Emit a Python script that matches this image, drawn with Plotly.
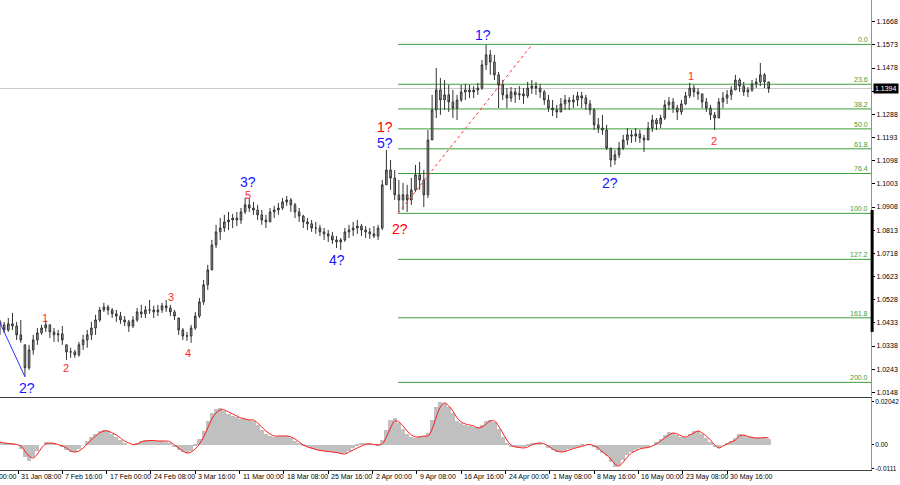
import plotly.graph_objects as go

# ---------------- DATA ----------------
# price bars (each bar = 12 hours)
highs = [1.0445,1.0437,1.0453,1.0474,1.0437,1.0445,1.0343,1.0343,1.0384,1.0412,
1.0425,1.0445,1.0425,1.0412,1.0404,1.0420,1.0343,1.0331,1.0322,1.0355,
1.0384,1.0404,1.0437,1.0466,1.0498,1.0515,1.0507,1.0494,1.0486,1.0478,
1.0461,1.0445,1.0461,1.0494,1.0507,1.0503,1.0527,1.0503,1.0507,1.0515,
1.0527,1.0507,1.0486,1.0453,1.0412,1.0396,1.0425,1.0478,1.0535,1.0609,
1.0671,1.0773,1.0835,1.0863,1.0876,1.0888,1.0880,1.0888,1.0904,1.0945,
1.0945,1.0929,1.0917,1.0896,1.0876,1.0904,1.0913,1.0925,1.0945,1.0953,
1.0945,1.0925,1.0904,1.0876,1.0863,1.0855,1.0847,1.0835,1.0822,1.0814,
1.0806,1.0789,1.0781,1.0822,1.0835,1.0847,1.0855,1.0839,1.0830,1.0822,
1.0830,1.0835,1.1019,1.1142,1.1101,1.1060,1.1019,1.1007,1.0999,1.1027,
1.1081,1.1093,1.1060,1.1224,1.1368,1.1478,1.1437,1.1429,1.1409,1.1388,
1.1368,1.1409,1.1413,1.1409,1.1404,1.1417,1.1511,1.1573,1.1552,1.1532,
1.1462,1.1429,1.1396,1.1400,1.1396,1.1404,1.1396,1.1421,1.1429,1.1421,
1.1413,1.1388,1.1368,1.1347,1.1327,1.1355,1.1368,1.1359,1.1368,1.1380,
1.1380,1.1368,1.1347,1.1314,1.1273,1.1286,1.1245,1.1150,1.1142,1.1175,
1.1204,1.1232,1.1224,1.1232,1.1224,1.1204,1.1257,1.1286,1.1273,1.1286,
1.1347,1.1359,1.1355,1.1327,1.1347,1.1380,1.1417,1.1409,1.1396,1.1372,
1.1355,1.1327,1.1298,1.1355,1.1380,1.1388,1.1404,1.1450,1.1437,1.1421,
1.1400,1.1429,1.1437,1.1499,1.1458,1.1421]

lows = [1.0384,1.0392,1.0396,1.0404,1.0363,1.0351,1.0212,1.0240,1.0302,1.0343,
1.0384,1.0396,1.0371,1.0355,1.0355,1.0343,1.0281,1.0290,1.0290,1.0294,
1.0322,1.0331,1.0363,1.0384,1.0437,1.0478,1.0466,1.0453,1.0437,1.0429,
1.0420,1.0396,1.0412,1.0437,1.0453,1.0453,1.0470,1.0453,1.0461,1.0474,
1.0478,1.0461,1.0445,1.0384,1.0363,1.0359,1.0351,1.0404,1.0453,1.0507,
1.0568,1.0650,1.0740,1.0773,1.0806,1.0814,1.0822,1.0830,1.0839,1.0880,
1.0888,1.0876,1.0855,1.0835,1.0822,1.0847,1.0863,1.0876,1.0896,1.0913,
1.0888,1.0863,1.0847,1.0822,1.0814,1.0806,1.0798,1.0789,1.0773,1.0765,
1.0757,1.0740,1.0732,1.0765,1.0781,1.0789,1.0798,1.0789,1.0781,1.0777,
1.0781,1.0773,1.0814,1.0999,1.0978,1.0937,1.0888,1.0896,1.0888,1.0917,
1.0970,1.0978,1.0908,1.0945,1.1183,1.1273,1.1286,1.1306,1.1298,1.1273,
1.1265,1.1339,1.1347,1.1355,1.1355,1.1368,1.1388,1.1470,1.1450,1.1429,
1.1314,1.1347,1.1314,1.1339,1.1335,1.1347,1.1331,1.1355,1.1372,1.1368,
1.1355,1.1327,1.1298,1.1281,1.1273,1.1298,1.1306,1.1306,1.1314,1.1322,
1.1314,1.1306,1.1286,1.1224,1.1212,1.1204,1.1142,1.1072,1.1081,1.1109,
1.1142,1.1163,1.1171,1.1175,1.1171,1.1134,1.1183,1.1216,1.1224,1.1232,
1.1265,1.1306,1.1294,1.1265,1.1286,1.1327,1.1355,1.1359,1.1347,1.1314,
1.1298,1.1265,1.1224,1.1273,1.1314,1.1331,1.1347,1.1388,1.1380,1.1364,
1.1359,1.1380,1.1396,1.1404,1.1396,1.1376]

closes = [1.0425,1.0404,1.0429,1.0420,1.0384,1.0363,1.0249,1.0322,1.0363,1.0392,
1.0412,1.0425,1.0396,1.0384,1.0388,1.0363,1.0314,1.0314,1.0302,1.0343,
1.0363,1.0384,1.0412,1.0445,1.0486,1.0498,1.0486,1.0470,1.0461,1.0445,
1.0437,1.0420,1.0445,1.0478,1.0470,1.0486,1.0486,1.0478,1.0486,1.0503,
1.0494,1.0478,1.0461,1.0404,1.0379,1.0379,1.0412,1.0461,1.0519,1.0589,
1.0650,1.0752,1.0806,1.0822,1.0847,1.0855,1.0863,1.0855,1.0888,1.0917,
1.0904,1.0896,1.0876,1.0855,1.0847,1.0888,1.0896,1.0904,1.0929,1.0937,
1.0917,1.0888,1.0871,1.0847,1.0839,1.0822,1.0822,1.0806,1.0798,1.0789,
1.0773,1.0765,1.0773,1.0806,1.0814,1.0822,1.0830,1.0814,1.0806,1.0798,
1.0789,1.0822,1.0999,1.1060,1.1027,1.0958,1.0937,1.0958,1.0937,1.0978,
1.1040,1.1019,1.0958,1.1183,1.1306,1.1388,1.1347,1.1368,1.1339,1.1314,
1.1347,1.1380,1.1388,1.1380,1.1388,1.1396,1.1491,1.1532,1.1503,1.1450,
1.1409,1.1368,1.1355,1.1380,1.1368,1.1372,1.1364,1.1396,1.1404,1.1396,
1.1380,1.1347,1.1314,1.1306,1.1298,1.1331,1.1347,1.1339,1.1347,1.1364,
1.1355,1.1331,1.1306,1.1245,1.1232,1.1224,1.1150,1.1101,1.1122,1.1150,
1.1183,1.1204,1.1199,1.1208,1.1191,1.1183,1.1232,1.1265,1.1249,1.1273,
1.1327,1.1339,1.1314,1.1298,1.1331,1.1364,1.1396,1.1380,1.1372,1.1339,
1.1314,1.1286,1.1273,1.1339,1.1355,1.1368,1.1388,1.1429,1.1404,1.1380,
1.1388,1.1413,1.1421,1.1450,1.1421,1.1394]
first_open = 1.0437

# MACD (grey histogram) and signal (red line)
macd_main = [0.00143,0.00095,0.00071,0.00048,0.0,-0.0019,-0.0057,-0.0076,-0.0057,-0.00285,
0.0,0.00143,0.00095,0.00048,0.0,-0.00095,-0.00238,-0.00333,-0.00333,-0.0019,
0.0,0.0019,0.0038,0.00523,0.00665,0.00713,0.00665,0.00523,0.0038,0.00238,
0.00095,0.0,0.0,0.00095,0.0019,0.00238,0.00238,0.0019,0.0019,0.0019,
0.00143,0.00048,-0.00095,-0.00238,-0.00333,-0.0038,-0.00285,-0.00048,0.00285,0.00665,
0.0114,0.0152,0.0171,0.01758,0.01615,0.01473,0.01378,0.0133,0.01235,0.01235,
0.01188,0.0114,0.0095,0.00713,0.00523,0.00428,0.0038,0.00428,0.00428,0.00428,
0.00333,0.0019,0.00048,-0.00048,-0.00095,-0.0019,-0.00238,-0.00285,-0.00285,-0.00333,
-0.00333,-0.0038,-0.00428,-0.0038,-0.00285,-0.00143,-0.00048,0.00048,0.00095,0.00048,
0.0,-0.00048,0.00238,0.00713,0.01188,0.01283,0.01045,0.0076,0.00523,0.0038,
0.00333,0.00428,0.00428,0.0057,0.01188,0.01805,0.02043,0.01995,0.01805,0.0152,
0.0114,0.01045,0.0095,0.00903,0.00855,0.00855,0.0095,0.0114,0.01188,0.01093,
0.0076,0.0038,0.00048,-0.00095,-0.00095,-0.00143,-0.00095,-0.00048,0.00048,0.00095,
0.00095,0.0,-0.00143,-0.00238,-0.00333,-0.00333,-0.00285,-0.0019,-0.00143,-0.00095,
-0.00048,0.0,0.0,-0.00095,-0.00238,-0.0038,-0.00523,-0.00808,-0.01045,-0.0095,
-0.00713,-0.00475,-0.00333,-0.00238,-0.00143,-0.00143,-0.00095,0.0,0.00143,0.00285,
0.00475,0.00618,0.0057,0.00475,0.0038,0.0038,0.00523,0.00665,0.00665,0.00523,
0.00333,0.00143,-0.00095,-0.00143,0.0,0.00095,0.0019,0.00333,0.00523,0.00475,
0.0038,0.00333,0.00333,0.00333,0.0038,0.00285]

macd_signal = [0.00143,0.00095,0.00071,0.00048,0.00024,-0.00048,-0.00285,-0.00523,-0.00618,-0.00428,
-0.00143,0.00048,0.00095,0.00071,0.00024,-0.00048,-0.00143,-0.00285,-0.00333,-0.00285,
-0.00143,0.00048,0.00238,0.00428,0.0057,0.00665,0.00665,0.0057,0.00475,0.00333,
0.0019,0.00095,0.00024,0.00048,0.00143,0.0019,0.00214,0.00214,0.0019,0.0019,
0.0019,0.00143,0.0,-0.00143,-0.00285,-0.0038,-0.00333,-0.0019,0.00048,0.0038,
0.00808,0.01235,0.0152,0.01663,0.01663,0.01568,0.01473,0.01378,0.01283,0.01235,
0.01188,0.01188,0.01045,0.00855,0.00665,0.00523,0.00428,0.00428,0.00428,0.00428,
0.0038,0.00285,0.00143,0.0,-0.00095,-0.00143,-0.00214,-0.00261,-0.00285,-0.00309,
-0.00333,-0.00356,-0.00404,-0.00428,-0.00333,-0.00238,-0.00143,-0.00048,0.00024,0.00048,
0.00024,0.0,0.00048,0.0038,0.00808,0.0114,0.01093,0.00903,0.00665,0.00475,
0.0038,0.0038,0.00428,0.00428,0.0076,0.0133,0.01805,0.01995,0.01853,0.01615,
0.01283,0.01093,0.00998,0.0095,0.00903,0.00808,0.00855,0.00998,0.0114,0.0114,
0.00903,0.0057,0.00238,0.0,-0.00095,-0.00119,-0.00143,-0.00095,0.0,0.00071,
0.00095,0.00048,-0.00048,-0.0019,-0.00285,-0.00333,-0.00309,-0.00238,-0.00166,-0.00119,
-0.00071,0.0,0.00024,-0.00048,-0.00143,-0.00333,-0.00475,-0.00665,-0.00903,-0.00998,
-0.00808,-0.0057,-0.0038,-0.00285,-0.0019,-0.00143,-0.00119,-0.00048,0.00048,0.0019,
0.00333,0.00475,0.0057,0.00523,0.00428,0.0038,0.00475,0.0057,0.00665,0.0057,
0.00428,0.00238,0.0,-0.00143,-0.00048,0.00048,0.00143,0.00238,0.00428,0.00475,
0.00404,0.00356,0.00333,0.00333,0.00356,0.00333]

# time axis labels (one every 32 four-hour bars)
time_labels = ["31 Jan 08:00", "7 Feb 16:00", "17 Feb 00:00", "24 Feb 08:00", "3 Mar 16:00",
               "11 Mar 00:00", "18 Mar 08:00", "25 Mar 16:00", "2 Apr 00:00", "9 Apr 08:00",
               "16 Apr 16:00", "24 Apr 00:00", "1 May 08:00", "8 May 16:00", "16 May 00:00",
               "23 May 08:00", "30 May 16:00"]
first_label_cut = "24 Jan 00:00"
price_ticks = [1.0148, 1.0243, 1.0338, 1.0433, 1.0528, 1.0623, 1.0718, 1.0813, 1.0908,
               1.1003, 1.1098, 1.1193, 1.1288, 1.1383, 1.1478, 1.1573, 1.1668]
macd_ticks = [0.02042, 0.0, -0.0111]
macd_tick_text = ["0.02042", "0.00", "-0.0111"]
current_price = 1.1394

# Fibonacci grid
fib_high = 1.1575
fib_low = 1.0882
fib_ratios = [0.0, 23.6, 38.2, 50.0, 61.8, 76.4, 100.0, 127.2, 161.8, 200.0]
fib_start = 274.4          # bar position (4h bars) where the grid starts

# wave marks
wave_text = ["2?", "1", "2", "3", "4", "5", "3?", "4?", "1?", "5?", "2?", "1?", "2?", "1", "2"]
wave_pos = [6.5, 19.5, 34.7, 110.2, 123.0, 166.3, 166.3, 230.1, 265.0, 265.0, 275.8, 335.5, 427.4, 486.0, 502.5]
wave_price = [1.0166, 1.0453, 1.0248, 1.0539, 1.0311, 1.0958, 1.1012, 1.0691, 1.1238, 1.1169,
              1.0817, 1.1613, 1.1006, 1.1445, 1.1180]
wave_kind = ["blue", "small", "small", "small", "small", "small", "blue", "blue", "red", "blue",
             "red", "blue", "blue", "small", "small"]

# trend lines: (pos0, price0, pos1, price1)
red_trend = (274.4, 1.0882, 371.0, 1.1573)
blue_trend = (-13.0, 1.0433, 5.0, 1.0212)

# ---------------- BUILD ----------------
N = len(closes)
bar_pos = [-13 + 3 * i for i in range(N)]
opens = [first_open] + [min(max(c, lo), hi) for c, lo, hi in zip(closes[:-1], lows[1:], highs[1:])]
tick_pos = [32 * k for k in range(len(time_labels))]
X_RANGE = [-13, 615.9]
FONT = "Liberation Sans, Arial, sans-serif"

fig = go.Figure()
candle_style = dict(line=dict(color="#333333", width=1), fillcolor="#a6a6a6")
fig.add_trace(go.Candlestick(x=bar_pos, open=opens, high=highs, low=lows, close=closes,
                             increasing=candle_style, decreasing=candle_style,
                             whiskerwidth=0, xaxis="x", yaxis="y", hoverinfo="skip",
                             showlegend=False))

fig.add_trace(go.Bar(x=bar_pos, y=macd_main, width=3, marker=dict(color="#c0c0c0", line=dict(width=0)),
                     xaxis="x2", yaxis="y2", showlegend=False, hoverinfo="skip"))
fig.add_trace(go.Scatter(x=bar_pos, y=macd_signal, mode="lines", line=dict(color="#ff1a1a", width=1, shape="spline"),
                         xaxis="x2", yaxis="y2", showlegend=False, hoverinfo="skip"))

shapes = []
annotations = []

# current price line
shapes.append(dict(type="line", xref="x domain", yref="y", x0=0, x1=1, y0=current_price, y1=current_price,
                   line=dict(color="#c8c8c8", width=1), layer="below"))

fib_range = fib_high - fib_low
for r in fib_ratios:
    lvl = fib_high - r / 100.0 * fib_range
    shapes.append(dict(type="line", xref="x", yref="y", x0=fib_start, x1=X_RANGE[1], y0=lvl, y1=lvl,
                       line=dict(color="#3a9e3a", width=1), layer="below"))
    annotations.append(dict(xref="x domain", yref="y", x=1, y=lvl, xanchor="right", yanchor="bottom",
                            text=f"{r:.1f}", showarrow=False, xshift=-1, yshift=-1,
                            font=dict(family=FONT, size=7, color="#3a9e3a")))

shapes.append(dict(type="line", xref="x", yref="y", x0=red_trend[0], y0=red_trend[1], x1=red_trend[2], y1=red_trend[3],
                   line=dict(color="#ff3030", width=1, dash="dot")))
shapes.append(dict(type="line", xref="x", yref="y", x0=blue_trend[0], y0=blue_trend[1], x1=blue_trend[2], y1=blue_trend[3],
                   line=dict(color="#3030ff", width=1)))

# black marker on price scale
shapes.append(dict(type="line", xref="paper", yref="y", x0=1.0013, x1=1.0013, y0=1.0896, y1=1.0396,
                   line=dict(color="black", width=3)))

styles = {"blue": ("#1515ff", 14), "red": ("#ff0000", 14), "small": ("#ff2a2a", 11)}
for t, p, v, k in zip(wave_text, wave_pos, wave_price, wave_kind):
    col, sz = styles[k]
    annotations.append(dict(xref="x", yref="y", x=p, y=v, text=t, showarrow=False,
                            font=dict(family=FONT, size=sz, color=col)))

# current price tag (covers the 1.1383 scale label, as on the terminal)
annotations.append(dict(xref="x domain", yref="y", x=1, y=current_price, xanchor="left", yanchor="middle",
                        text=f"{current_price:.4f}", showarrow=False, bgcolor="black", xshift=2, borderpad=1,
                        font=dict(family=FONT, size=7, color="white")))

# time labels, left-aligned just after their tick mark
for p, t in zip(tick_pos, time_labels):
    annotations.append(dict(xref="x2", yref="paper", x=p, y=0, xanchor="left", yanchor="top",
                            xshift=1, yshift=-1, text=t, showarrow=False,
                            font=dict(family=FONT, size=7, color="black")))
# partially visible label left of the window (only its end shows)
annotations.append(dict(xref="paper", yref="paper", x=0, y=0, xanchor="left", yanchor="top",
                        xshift=-26, yshift=-1, text=first_label_cut, showarrow=False,
                        font=dict(family=FONT, size=7, color="black")))

price_text = ["" if abs(v - 1.1383) < 1e-6 else f"{v:.4f}" for v in price_ticks]

fig.update_layout(
    width=900, height=485,
    margin=dict(l=0, r=29, t=0, b=15),
    paper_bgcolor="white", plot_bgcolor="white",
    showlegend=False, bargap=0, boxgap=0.45,
    font=dict(family=FONT, size=7, color="black"),
    shapes=shapes, annotations=annotations,
    xaxis=dict(domain=[0, 1], anchor="y", range=X_RANGE, showticklabels=False, showgrid=False,
               zeroline=False, showline=False, ticks="", rangeslider=dict(visible=False)),
    yaxis=dict(domain=[0.1574, 1.0], anchor="x", side="right", range=[1.0133, 1.1757],
               tickvals=price_ticks, ticktext=price_text,
               showgrid=False, zeroline=False, showline=True, linecolor="#909090", linewidth=1,
               ticks="outside", ticklen=3, tickcolor="black", automargin=False,
               tickfont=dict(family=FONT, size=7, color="black")),
    xaxis2=dict(domain=[0, 1], anchor="y2", range=X_RANGE, tickvals=tick_pos, showticklabels=False,
                ticks="outside", ticklen=3, tickcolor="black",
                showgrid=False, zeroline=False, showline=True, mirror=True, linecolor="#404040",
                automargin=False),
    yaxis2=dict(domain=[0.0, 0.1532], anchor="x2", side="right", range=[-0.01187, 0.0223],
                tickvals=macd_ticks, ticktext=macd_tick_text, showgrid=False, zeroline=False,
                showline=True, linecolor="#909090", ticks="outside", ticklen=2, tickcolor="black",
                automargin=False, tickfont=dict(family=FONT, size=6.5, color="black")),
)

fig.write_html("out.html", config={"displayModeBar": False},
               post_script="document.body.style.margin='0';document.body.style.overflow='hidden';")
